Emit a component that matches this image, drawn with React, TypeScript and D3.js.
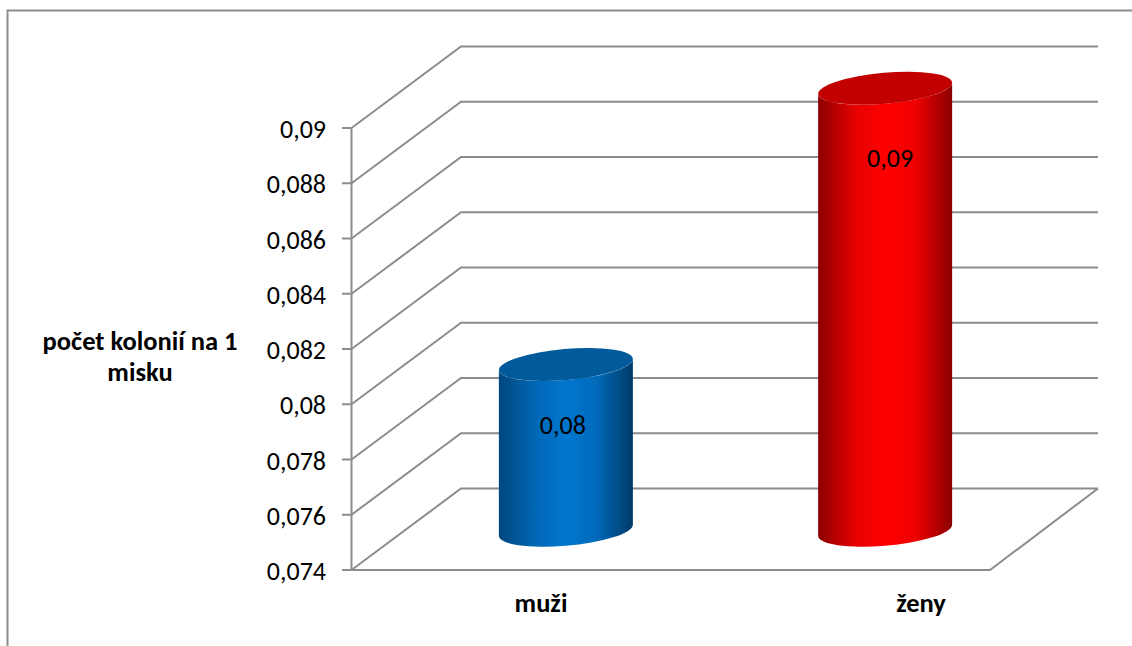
import React from "react";
import * as d3 from "d3";

const categories = ["muži", "ženy"];
const values = [0.08, 0.09];
const tickValues = [0.074, 0.076, 0.078, 0.08, 0.082, 0.084, 0.086, 0.088, 0.09];
const tickLabels = ["0,074", "0,076", "0,078", "0,08", "0,082", "0,084", "0,086", "0,088", "0,09"];
const valueLabels = ["0,08", "0,09"];
const axisTitle = ["počet kolonií na 1", "misku"];
const bodyStops = [
  ["#00477e", "#0068b6", "#0076cf", "#006bbb", "#003a68"],
  ["#8c0000", "#e60000", "#ff0000", "#f00000", "#8a0000"],
];
const stopOffsets = [0, 0.28, 0.5, 0.72, 1];
const capColors = ["#005a9b", "#c20000"];

const WIDTH = 1132;
const HEIGHT = 646;
const GRID = "#8c8c8c";
const FONT = "Carlito, Calibri, Lato, sans-serif";

// Oblique projection of the chart box: the back wall is offset from the front plane.
const DEPTH_X = 109.5;
const DEPTH_Y = -81.5;
const FLOOR_LEFT = 351.5;
const FLOOR_RIGHT = 990;

// Tilted ellipse used for cylinder caps, and where its side tangents land.
const RX = 67.2;
const RY = 15.5;
const TILT = -5;
const TANGENT_X = 67;
const TANGENT_Y = 5.5;

const y = d3.scaleLinear().domain([0.074, 0.09]).range([570, 128]);
const band = d3.scaleBand<string>().domain(categories).range([FLOOR_LEFT, FLOOR_RIGHT]);
const labelX = d3.scalePoint<string>().domain(categories).range([541, 921]);

// Side of a cylinder: down the left tangent, along the lower rim, up the right tangent.
function bodyPath(cx: number, top: number, bottom: number) {
  const lx = cx - TANGENT_X;
  const rx = cx + TANGENT_X;
  return (
    `M${lx} ${top + TANGENT_Y}L${lx} ${bottom + TANGENT_Y}` +
    `A${RX} ${RY} ${TILT} 0 0 ${rx} ${bottom - TANGENT_Y}` +
    `L${rx} ${top - TANGENT_Y}A${RX} ${RY} ${TILT} 0 1 ${lx} ${top + TANGENT_Y}Z`
  );
}

export default function App() {
  const centerY = y(0.074) + DEPTH_Y / 2 + 1;
  return (
    <svg
      width={WIDTH}
      height={HEIGHT}
      viewBox={`0 0 ${WIDTH} ${HEIGHT}`}
      style={{ position: "absolute", left: 0, top: 0, display: "block", background: "#fff" }}
    >
      <defs>
        {bodyStops.map((stops, i) => (
          <linearGradient key={i} id={`body-${i}`} x1="0" x2="1" y1="0" y2="0">
            {stops.map((c, j) => (
              <stop key={j} offset={stopOffsets[j]} stopColor={c} />
            ))}
          </linearGradient>
        ))}
      </defs>

      {/* chart frame: only the top and left edges fall inside the page */}
      <path d={`M7.5 646V10.5H${WIDTH}`} fill="none" stroke={GRID} strokeWidth={2} />

      {/* gridlines on the side wall and back wall */}
      {tickValues.map((v) => {
        const py = y(v);
        return (
          <path
            key={v}
            d={`M${FLOOR_LEFT} ${py}L${FLOOR_LEFT + DEPTH_X} ${py + DEPTH_Y}H1098`}
            fill="none"
            stroke={GRID}
            strokeWidth={2}
          />
        );
      })}

      {/* floor */}
      <path
        d={`M${FLOOR_LEFT} ${y(0.074)}H${FLOOR_RIGHT}L1098 ${y(0.074) + DEPTH_Y}`}
        fill="none"
        stroke={GRID}
        strokeWidth={2}
      />

      {/* value axis */}
      <line x1={FLOOR_LEFT} x2={FLOOR_LEFT} y1={y(0.09)} y2={y(0.074)} stroke={GRID} strokeWidth={2} />
      {tickValues.map((v, i) => (
        <g key={v}>
          <line x1={342} x2={FLOOR_LEFT} y1={y(v)} y2={y(v)} stroke={GRID} strokeWidth={2} />
          <text x={326} y={y(v) + 10} textAnchor="end" fontFamily={FONT} fontSize={26} fill="#000">
            {tickLabels[i]}
          </text>
        </g>
      ))}

      {/* cylinders */}
      {categories.map((c, i) => {
        const cx = band(c)! + band.bandwidth() / 2 + DEPTH_X / 2;
        const top = y(values[i]) + DEPTH_Y / 2 + 1;
        return (
          <g key={c}>
            <path d={bodyPath(cx, top, centerY)} fill={`url(#body-${i})`} />
            <ellipse
              cx={cx}
              cy={top}
              rx={RX}
              ry={RY}
              transform={`rotate(${TILT} ${cx} ${top})`}
              fill={capColors[i]}
            />
            <text
              x={cx - (i === 0 ? 3 : -5)}
              y={top + (i === 0 ? 69 : 79)}
              textAnchor="middle"
              fontFamily={FONT}
              fontSize={26}
              fill="#000"
            >
              {valueLabels[i]}
            </text>
          </g>
        );
      })}

      {/* category labels */}
      {categories.map((c) => (
        <text
          key={c}
          x={labelX(c)}
          y={612}
          textAnchor="middle"
          fontFamily={FONT}
          fontSize={26.5}
          fontWeight="bold"
          fill="#000"
        >
          {c}
        </text>
      ))}

      {/* axis title */}
      {axisTitle.map((line, i) => (
        <text
          key={line}
          x={140}
          y={350 + i * 31}
          textAnchor="middle"
          fontFamily={FONT}
          fontSize={26.5}
          fontWeight="bold"
          fill="#000"
        >
          {line}
        </text>
      ))}
    </svg>
  );
}
